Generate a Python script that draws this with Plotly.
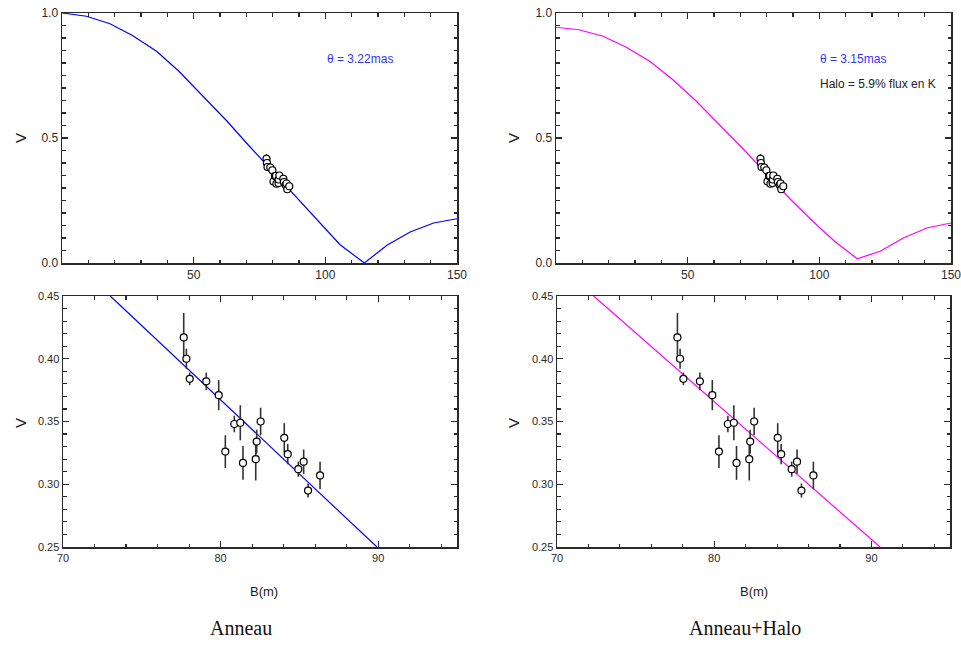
import plotly.graph_objects as go

# ---- data ----
B_obs = [77.66, 77.83, 78.04, 79.09, 79.88, 80.30, 80.87, 81.25, 81.42,
         82.23, 82.29, 82.54, 84.04, 84.26, 84.93, 85.27, 85.55, 86.31]
V_obs = [0.417, 0.400, 0.384, 0.382, 0.371, 0.326, 0.348, 0.349, 0.317,
         0.320, 0.334, 0.350, 0.337, 0.324, 0.312, 0.318, 0.295, 0.307]
V_err = [0.0195, 0.008, 0.005, 0.007, 0.012, 0.013, 0.0066, 0.014, 0.0135,
         0.017, 0.0095, 0.011, 0.0117, 0.008, 0.006, 0.0097, 0.0056, 0.011]

B_ring = [0, 9.3, 18.2, 26.6, 35.9, 44.4, 53.9, 62.7, 71.0, 80.0, 88.5,
          97.0, 105.6, 114.8, 123.4, 132.2, 141.1, 150.0]
V_ring = [1.0, 0.987, 0.957, 0.911, 0.847, 0.767, 0.663, 0.567, 0.469, 0.367,
          0.267, 0.170, 0.073, 0.0, 0.071, 0.124, 0.160, 0.177]

B_halo = [0, 8.7, 17.9, 26.7, 35.6, 44.4, 53.3, 62.2, 71.0, 80.0, 88.8,
          97.6, 106.0, 114.4, 123.1, 131.9, 140.8, 150.0]
V_halo = [0.943, 0.933, 0.907, 0.863, 0.807, 0.733, 0.647, 0.553, 0.457, 0.356,
          0.257, 0.166, 0.085, 0.017, 0.047, 0.100, 0.140, 0.160]

B_zoom_ring = [73.0, 89.92]
V_zoom_ring = [0.45, 0.25]
B_zoom_halo = [72.33, 90.55]
V_zoom_halo = [0.45, 0.25]

top_xticks = [0, 50, 100, 150]
top_xtext = ["", "50", "100", "150"]
top_yticks = [0.0, 0.5, 1.0]
bot_xticks = [70, 80, 90]
bot_yticks = [0.25, 0.30, 0.35, 0.40, 0.45]

labels = ["Anneau", "Anneau+Halo"]
theta_txt = ["θ = 3.22mas", "θ = 3.15mas"]
halo_txt = "Halo = 5.9% flux en K"

BLUE = "#0000ff"
MAG = "#ff00ff"
AX = "#2a2a2a"
W, H = 961, 645

fig = go.Figure()


def add_obs(xa, ya):
    fig.add_trace(go.Scatter(
        x=B_obs, y=V_obs, mode="markers", xaxis=xa, yaxis=ya,
        error_y=dict(type="data", array=V_err, visible=True, color="#333333",
                     thickness=1.6, width=0),
        marker=dict(size=7, color="white", line=dict(color="black", width=1.2)),
        showlegend=False, hoverinfo="skip"))


# top-left
fig.add_trace(go.Scatter(x=B_ring, y=V_ring, mode="lines", xaxis="x", yaxis="y",
                         line=dict(color=BLUE, width=1.2), showlegend=False))
add_obs("x", "y")
# top-right
fig.add_trace(go.Scatter(x=B_halo, y=V_halo, mode="lines", xaxis="x2", yaxis="y2",
                         line=dict(color=MAG, width=1.2), showlegend=False))
add_obs("x2", "y2")
# bottom-left
fig.add_trace(go.Scatter(x=B_zoom_ring, y=V_zoom_ring, mode="lines", xaxis="x3", yaxis="y3",
                         line=dict(color=BLUE, width=1.2), showlegend=False))
add_obs("x3", "y3")
# bottom-right
fig.add_trace(go.Scatter(x=B_zoom_halo, y=V_zoom_halo, mode="lines", xaxis="x4", yaxis="y4",
                         line=dict(color=MAG, width=1.2), showlegend=False))
add_obs("x4", "y4")


def ax_common(size):
    return dict(showline=True, linecolor=AX, linewidth=1.5, mirror="ticks",
                ticks="inside", ticklen=6, tickwidth=1.3, tickcolor=AX,
                showgrid=False, zeroline=False, fixedrange=True, automargin=False,
                ticklabeloverflow="allow",
                tickfont=dict(family="Liberation Sans, Arial", size=size, color="#2a2a2a"))


def px_x(a, b):
    return [a / W, b / W]


def px_y(top, bottom):
    return [1 - bottom / H, 1 - top / H]


layout = dict(width=W, height=H, margin=dict(l=0, r=0, t=0, b=0, autoexpand=False),
              paper_bgcolor="white", plot_bgcolor="white", showlegend=False,
              hovermode=False)

# top x axes
for name, anchor, dom in [("xaxis", "y", px_x(62, 457)), ("xaxis2", "y2", px_x(556, 951))]:
    d = ax_common(12)
    d.update(domain=dom, anchor=anchor, range=[0, 150], tickmode="array",
             tickvals=top_xticks, ticktext=top_xtext,
             minor=dict(dtick=10, tick0=0, ticks="inside", ticklen=3.5, tickcolor=AX, tickwidth=1.1))
    layout[name] = d
for name, anchor, dom in [("yaxis", "x", px_y(13, 263)), ("yaxis2", "x2", px_y(13, 263))]:
    d = ax_common(12)
    d.update(domain=dom, anchor=anchor, range=[0, 1], tickmode="array",
             tickvals=top_yticks, tickformat=".1f",
             minor=dict(dtick=0.05, tick0=0, ticks="inside", ticklen=3.5, tickcolor=AX, tickwidth=1.1))
    layout[name] = d
# bottom axes
for name, anchor, dom in [("xaxis3", "y3", px_x(63, 457)), ("xaxis4", "y4", px_x(557, 950))]:
    d = ax_common(11)
    d.update(domain=dom, anchor=anchor, range=[70, 95], tickmode="array",
             tickvals=bot_xticks,
             minor=dict(dtick=2, tick0=70, ticks="inside", ticklen=3.5, tickcolor=AX, tickwidth=1.1))
    layout[name] = d
for name, anchor, dom in [("yaxis3", "x3", px_y(296, 547)), ("yaxis4", "x4", px_y(296, 547))]:
    d = ax_common(11)
    d.update(domain=dom, anchor=anchor, range=[0.25, 0.45], tickmode="array",
             tickvals=bot_yticks, tickformat=".2f",
             minor=dict(dtick=0.01, tick0=0.25, ticks="inside", ticklen=3.5, tickcolor=AX, tickwidth=1.1))
    layout[name] = d

fig.update_layout(**layout)

ann = []


def pa(x, y, text, size, color="#222222", family="Liberation Sans, Arial",
       angle=0, xanchor="center"):
    ann.append(dict(x=x / W, y=1 - y / H, xref="paper", yref="paper", text=text,
                    showarrow=False, textangle=angle, xanchor=xanchor, yanchor="middle",
                    font=dict(size=size, color=color, family=family)))


for xv in (20, 513):
    pa(xv, 138, "V", 15, angle=-90)
    pa(xv, 423, "V", 15, angle=-90)
pa(264, 591, "B(m)", 13)
pa(754, 591, "B(m)", 13)
pa(241, 628, labels[0], 20, color="#111111", family="Liberation Serif, Times New Roman")
pa(745, 628, labels[1], 20, color="#111111", family="Liberation Serif, Times New Roman")
pa(325, 59, theta_txt[0], 12, color="#3333ff", xanchor="left")
pa(818, 59, theta_txt[1], 12, color="#3333ff", xanchor="left")
pa(818, 84, halo_txt, 12, color="#222222", xanchor="left")

fig.update_layout(annotations=ann)
fig.write_html(
    "out.html",
    config={"displayModeBar": False, "staticPlot": True},
    post_script="document.body.style.margin='0px';document.body.style.overflow='hidden';",
)
